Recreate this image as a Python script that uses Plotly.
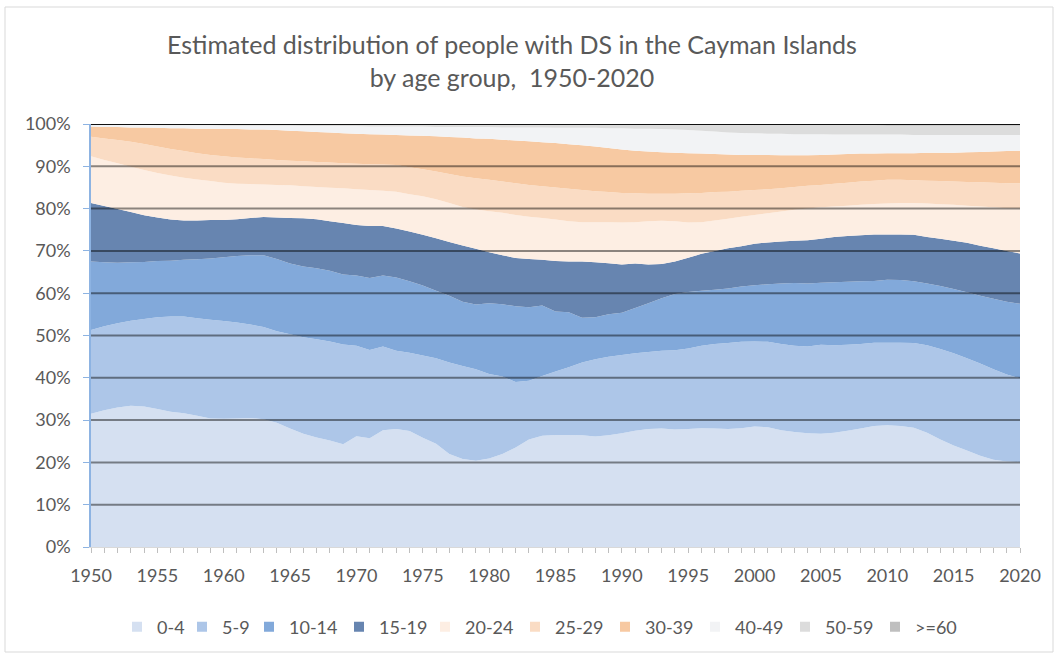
import numpy as np
import plotly.graph_objects as go

years = list(range(1950, 2021))
groups = ["0-4", "5-9", "10-14", "15-19", "20-24", "25-29", "30-39", "40-49", "50-59", ">=60"]
colors = ["#d5e0f1", "#adc6e8", "#82a9da", "#6785b0", "#fdeee3",
          "#fadcc4", "#f7c9a2", "#f2f3f5", "#dcdcdc", "#bfbfbf"]

# Upper edge (cumulative %) of each age band, 1950..2020
top_0_4 = [31.5, 32.3, 33.0, 33.4, 33.2, 32.6, 32.0, 31.6, 31.0, 30.4,
           30.3, 30.4, 30.5, 30.2, 29.4, 28.0, 26.8, 25.9, 25.2, 24.3,
           26.2, 25.7, 27.6, 27.9, 27.4, 25.8, 24.4, 22.0, 20.8, 20.4,
           20.9, 22.0, 23.5, 25.4, 26.3, 26.5, 26.5, 26.4, 26.1, 26.4,
           26.9, 27.5, 27.9, 28.0, 27.8, 27.9, 28.1, 28.0, 27.9, 28.1,
           28.5, 28.3, 27.6, 27.2, 26.9, 26.8, 27.0, 27.5, 28.0, 28.6,
           28.8, 28.6, 28.2, 27.0, 25.4, 24.0, 22.8, 21.6, 20.6, 20.2, 20.1]
top_5_9 = [51.3, 52.2, 52.9, 53.5, 53.9, 54.3, 54.5, 54.5, 54.1, 53.7,
           53.4, 53.1, 52.6, 52.0, 51.0, 50.3, 49.6, 49.1, 48.6, 47.9,
           47.6, 46.6, 47.4, 46.4, 45.9, 45.3, 44.6, 43.6, 42.8, 42.0,
           40.9, 40.3, 39.0, 39.3, 40.4, 41.5, 42.5, 43.6, 44.4, 45.0,
           45.4, 45.8, 46.1, 46.4, 46.5, 46.9, 47.6, 48.0, 48.2, 48.5,
           48.6, 48.5, 48.0, 47.6, 47.4, 47.8, 47.7, 47.8, 48.0, 48.3,
           48.3, 48.3, 48.2, 47.7, 46.8, 45.8, 44.6, 43.4, 42.0, 40.8, 39.9]
top_10_14 = [67.5, 67.3, 67.2, 67.3, 67.4, 67.6, 67.7, 67.9, 68.0, 68.2,
             68.5, 68.8, 69.0, 69.0, 68.1, 67.0, 66.3, 65.9, 65.3, 64.4,
             64.2, 63.6, 64.2, 63.7, 62.8, 61.8, 60.6, 59.4, 58.0, 57.3,
             57.6, 57.4, 56.9, 56.7, 57.1, 55.7, 55.5, 54.2, 54.3, 55.0,
             55.4, 56.5, 57.6, 58.8, 59.8, 60.3, 60.6, 60.8, 61.1, 61.6,
             61.9, 62.1, 62.3, 62.4, 62.3, 62.5, 62.6, 62.7, 62.8, 62.9,
             63.2, 63.1, 62.8, 62.3, 61.7, 61.0, 60.2, 59.4, 58.7, 58.0, 57.5]
top_15_19 = [81.3, 80.6, 79.9, 79.2, 78.4, 77.9, 77.4, 77.2, 77.2, 77.3,
             77.3, 77.5, 77.8, 78.0, 77.9, 77.8, 77.7, 77.5, 77.0, 76.6,
             76.1, 75.9, 75.9, 75.3, 74.6, 73.8, 73.0, 72.1, 71.3, 70.5,
             69.7, 69.0, 68.3, 68.1, 67.9, 67.6, 67.5, 67.5, 67.3, 67.1,
             66.8, 67.0, 66.8, 66.9, 67.5, 68.4, 69.3, 70.0, 70.6, 71.1,
             71.7, 72.0, 72.2, 72.4, 72.5, 72.9, 73.3, 73.5, 73.7, 73.9,
             73.9, 73.9, 73.8, 73.3, 72.9, 72.4, 71.9, 71.2, 70.6, 70.0, 69.4]
top_20_24 = [92.4, 91.5, 90.7, 89.9, 89.1, 88.4, 87.8, 87.3, 86.9, 86.5,
             86.1, 85.9, 85.8, 85.7, 85.6, 85.5, 85.3, 85.1, 84.9, 84.8,
             84.6, 84.4, 84.2, 84.0, 83.4, 82.9, 82.2, 81.3, 80.4, 79.8,
             79.4, 79.0, 78.5, 78.1, 77.8, 77.4, 77.0, 76.8, 76.8, 76.8,
             76.7, 76.8, 77.0, 77.1, 77.0, 76.7, 76.8, 77.2, 77.6, 78.1,
             78.5, 78.9, 79.3, 79.7, 80.0, 80.3, 80.5, 80.7, 80.9, 81.1,
             81.2, 81.3, 81.3, 81.2, 81.0, 80.9, 80.7, 80.5, 80.3, 80.1, 80.0]
top_25_29 = [97.0, 96.6, 96.2, 95.8, 95.3, 94.7, 94.1, 93.6, 93.1, 92.7,
             92.4, 92.1, 91.9, 91.7, 91.5, 91.3, 91.2, 91.0, 90.9, 90.7,
             90.6, 90.5, 90.4, 90.3, 89.8, 89.3, 88.8, 88.2, 87.6, 87.2,
             86.8, 86.4, 86.0, 85.6, 85.3, 85.0, 84.7, 84.4, 84.1, 83.9,
             83.7, 83.6, 83.5, 83.5, 83.5, 83.6, 83.7, 83.9, 84.0, 84.2,
             84.4, 84.6, 84.8, 85.1, 85.4, 85.6, 85.9, 86.1, 86.4, 86.6,
             86.8, 86.8, 86.7, 86.6, 86.5, 86.4, 86.3, 86.2, 86.1, 86.0, 86.0]
top_30_39 = [99.4, 99.3, 99.3, 99.2, 99.2, 99.1, 99.0, 99.0, 98.9, 98.9,
             98.8, 98.8, 98.7, 98.7, 98.6, 98.4, 98.3, 98.1, 98.0, 97.8,
             97.7, 97.6, 97.5, 97.4, 97.3, 97.2, 97.1, 96.9, 96.8, 96.6,
             96.5, 96.3, 96.1, 95.9, 95.7, 95.5, 95.2, 95.0, 94.7, 94.3,
             94.0, 93.7, 93.5, 93.3, 93.2, 93.1, 93.0, 92.9, 92.8, 92.7,
             92.7, 92.7, 92.6, 92.6, 92.6, 92.7, 92.8, 92.9, 93.0, 93.0,
             93.1, 93.1, 93.1, 93.2, 93.2, 93.2, 93.3, 93.4, 93.5, 93.6, 93.7]
top_40_49 = [99.8, 99.8, 99.8, 99.8, 99.8, 99.7, 99.7, 99.7, 99.7, 99.7,
             99.6, 99.6, 99.6, 99.6, 99.6, 99.6, 99.5, 99.5, 99.5, 99.5,
             99.5, 99.4, 99.4, 99.4, 99.4, 99.4, 99.3, 99.3, 99.3, 99.3,
             99.3, 99.2, 99.2, 99.2, 99.2, 99.1, 99.1, 99.1, 99.1, 99.0,
             99.0, 98.9, 98.9, 98.8, 98.7, 98.6, 98.4, 98.2, 98.0, 97.9,
             97.8, 97.7, 97.7, 97.6, 97.6, 97.6, 97.5, 97.5, 97.5, 97.5,
             97.5, 97.5, 97.4, 97.4, 97.4, 97.4, 97.4, 97.4, 97.4, 97.4, 97.4]
top_50_59 = [99.9, 99.9, 99.9, 99.9, 99.9, 99.9, 99.9, 99.9, 99.9, 99.9,
             99.9, 99.9, 99.9, 99.9, 99.9, 99.9, 99.9, 99.9, 99.9, 99.9,
             99.9, 99.9, 99.9, 99.9, 99.9, 99.9, 99.9, 99.9, 99.9, 99.9,
             99.8, 99.8, 99.8, 99.8, 99.8, 99.8, 99.8, 99.8, 99.8, 99.8,
             99.8, 99.8, 99.8, 99.8, 99.8, 99.8, 99.8, 99.8, 99.8, 99.8,
             99.7, 99.7, 99.7, 99.7, 99.7, 99.7, 99.7, 99.7, 99.7, 99.7,
             99.6, 99.6, 99.6, 99.6, 99.6, 99.6, 99.6, 99.6, 99.6, 99.6, 99.6]

ytick_vals = list(range(0, 101, 10))
ytick_text = [f"{v}%" for v in ytick_vals]
xtick_vals = list(range(1950, 2021, 5))
legend_centers_px = [140, 205, 272, 362, 448, 538, 628, 718, 808, 898]

FONT = "Lato, 'Open Sans', sans-serif"
GREY = "#595959"

edges = np.vstack([np.zeros(len(years)), top_0_4, top_5_9, top_10_14, top_15_19,
                   top_20_24, top_25_29, top_30_39, top_40_49, top_50_59,
                   np.full(len(years), 100.0)])
shares = np.round(np.diff(edges, axis=0), 2)

# plot area in pixels
L, R, T, B = 91, 40, 124, 111
W, H = 1060, 658
pw, ph = W - L - R, H - T - B

fig = go.Figure()
for g, c, s in zip(groups, colors, shares):
    fig.add_trace(go.Scatter(x=years, y=s, name=g, stackgroup="one", mode="none",
                             fillcolor=c, line=dict(width=0), showlegend=False))

layout_legends = {}
for i, (g, c) in enumerate(zip(groups, colors)):
    key = "legend" if i == 0 else f"legend{i+1}"
    fig.add_trace(go.Scatter(x=[None], y=[None], name=g, mode="markers",
                             marker=dict(symbol="square", size=10, color=c,
                                         line=dict(width=0)),
                             legend=key, showlegend=True))
    layout_legends[key] = dict(x=(legend_centers_px[i] - 23 - L) / pw, y=(T + ph - 627) / ph,
                               xanchor="left", yanchor="middle", orientation="h",
                               bgcolor="rgba(0,0,0,0)", font=dict(family=FONT, size=18, color=GREY))

shapes = []
for v in ytick_vals[1:]:
    shapes.append(dict(type="line", xref="paper", yref="y", x0=0, x1=1, y0=v, y1=v,
                       line=dict(color="rgba(0,0,0,0.92)" if v == 100 else "rgba(0,0,0,0.45)",
                                 width=2), layer="above"))
shapes.append(dict(type="rect", xref="paper", yref="paper",
                   x0=(5 - L) / pw, x1=(1053 - L) / pw,
                   y0=(T + ph - 652) / ph, y1=(T + ph - 7) / ph,
                   line=dict(color="#d9d9d9", width=1), layer="below"))

fig.update_layout(
    width=W, height=H,
    margin=dict(l=L, r=R, t=T, b=B),
    paper_bgcolor="white", plot_bgcolor="white",
    title=dict(text="Estimated distribution of people with DS in the Cayman Islands<br>by age group,  1950-2020",
               x=512 / W, xanchor="center", xref="container",
               y=1 - 54 / H, yanchor="top",
               font=dict(family=FONT, size=25, color=GREY)),
    font=dict(family=FONT, color=GREY),
    shapes=shapes,
    xaxis=dict(range=[1950, 2020], tickvals=xtick_vals, ticks="outside", ticklen=5,
               tickcolor="#bfbfbf", showgrid=False, showline=True, linecolor="#d9d9d9",
               zeroline=False, ticklabelstandoff=7,
               tickfont=dict(family=FONT, size=18, color=GREY),
               minor=dict(dtick=1, tick0=1950, ticks="outside", ticklen=5,
                          tickcolor="#bfbfbf", showgrid=False)),
    yaxis=dict(range=[0, 100], tickvals=ytick_vals, ticktext=ytick_text, ticks="outside",
               ticklen=6, tickcolor="#8db3e2", showgrid=False, showline=True,
               linecolor="#8db3e2", linewidth=1.5, zeroline=False, ticklabelstandoff=9,
               tickfont=dict(family=FONT, size=18, color=GREY)),
    **layout_legends,
)

fig.write_html("out.html", config={"displayModeBar": False},
               post_script="document.body.style.margin='0';")
